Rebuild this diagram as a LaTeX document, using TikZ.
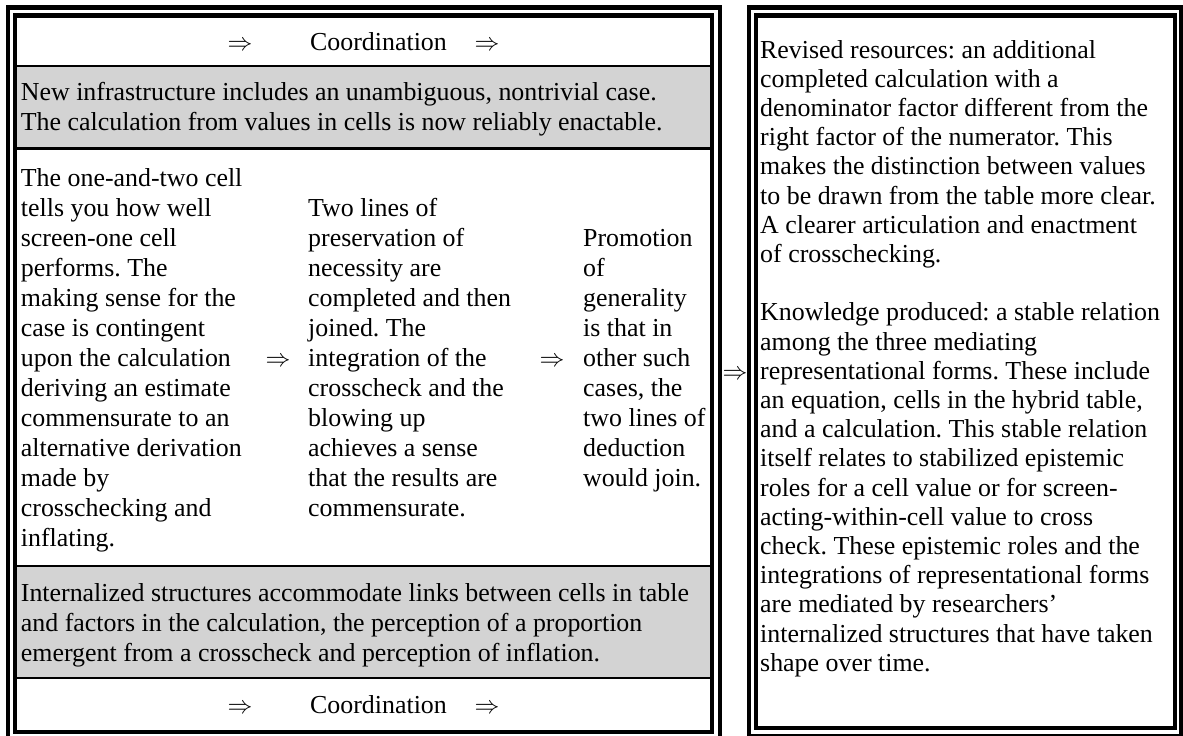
\documentclass[tikz,border=0pt]{standalone}
\usepackage{fontspec}
\setmainfont{Liberation Serif}
\frenchspacing
\definecolor{cellgray}{RGB}{211,211,211}
\tikzset{
  frame/.style={line width=4.2pt, draw=black},
  rowrule/.style={line width=2.2pt, draw=black},
  txt/.style={anchor=base west, inner sep=0pt},
  txtc/.style={anchor=base, inner sep=0pt, font=\fontsize{25.9}{30}\selectfont},
  implies/.style={anchor=base, inner sep=0pt, font=\fontsize{24}{28}\selectfont},
}
% blocks of text whose reference point is the baseline of their first line
\newcommand{\cellbody}[1]{\parbox[t]{700pt}{\fontsize{25.9}{30}\selectfont\raggedright #1}}
\newcommand{\sidebody}[1]{\parbox[t]{420pt}{\fontsize{25.9}{29.2}\selectfont\raggedright #1}}

\begin{document}
\begin{tikzpicture}[x=1pt,y=-1pt]
\useasboundingbox (0,0) rectangle (1183,736);

% shaded rows of the left table
\fill[cellgray] (17.4,66) rectangle (709.9,148.5);
\fill[cellgray] (17.4,566) rectangle (709.9,678);

% row rules
\draw[rowrule] (17.4,66) -- (709.9,66);
\draw[rowrule] (17.4,148.5) -- (709.9,148.5);
\draw[rowrule] (17.4,566) -- (709.9,566);
\draw[rowrule] (17.4,678) -- (709.9,678);

% double frames
\draw[frame] (8,7.5) rectangle (720,740);
\draw[frame] (15.3,15.5) rectangle (712,732);
\draw[frame] (749,7.5) rectangle (1181,736);
\draw[frame] (756,15.5) rectangle (1175,728);

% top row
\node[implies] (topA) at (240,50) {$\Rightarrow$};
\node[txtc] (topC) at (378.5,50) {Coordination};
\node[implies] (topB) at (487,50) {$\Rightarrow$};

% first shaded row
\node[txt] (infra) at (20.7,100) {\cellbody{New infrastructure includes an unambiguous, nontrivial case.\\
The calculation from values in cells is now reliably enactable.}};

% middle row: three cells joined by implications
\node[txt] (cellone) at (20.7,186) {\cellbody{The one-and-two cell\\
tells you how well\\
screen-one cell\\
performs. The\\
making sense for the\\
case is contingent\\
upon the calculation\\
deriving an estimate\\
commensurate to an\\
alternative derivation\\
made by\\
crosschecking and\\
inflating.}};

\node[implies] (midA) at (278,366) {$\Rightarrow$};

\node[txt] (celltwo) at (308,216) {\cellbody{Two lines of\\
preservation of\\
necessity are\\
completed and then\\
joined. The\\
integration of the\\
crosscheck and the\\
blowing up\\
achieves a sense\\
that the results are\\
commensurate.}};

\node[implies] (midB) at (552,366) {$\Rightarrow$};

\node[txt] (cellthree) at (583,246) {\cellbody{Promotion\\
of\\
generality\\
is that in\\
other such\\
cases, the\\
two lines of\\
deduction\\
would join.}};

% second shaded row
\node[txt] (internal) at (20.7,601) {\cellbody{Internalized structures accommodate links between cells in table\\
and factors in the calculation, the perception of a proportion\\
emergent from a crosscheck and perception of inflation.}};

% bottom row
\node[implies] (botA) at (240,713) {$\Rightarrow$};
\node[txtc] (botC) at (378.5,713) {Coordination};
\node[implies] (botB) at (487,713) {$\Rightarrow$};

% link between the two boxes
\node[implies] (link) at (735,379) {$\Rightarrow$};

% right box
\node[txt] (outcome) at (760,58) {\sidebody{Revised resources: an additional\\
completed calculation with a\\
denominator factor different from the\\
right factor of the numerator. This\\
makes the distinction between values\\
to be drawn from the table more clear.\\
A clearer articulation and enactment\\
of crosschecking.\\[29.2pt]
Knowledge produced: a stable relation\\
among the three mediating\\
representational forms. These include\\
an equation, cells in the hybrid table,\\
and a calculation. This stable relation\\
itself relates to stabilized epistemic\\
roles for a cell value or for screen-\\
acting-within-cell value to cross\\
check. These epistemic roles and the\\
integrations of representational forms\\
are mediated by researchers’\\
internalized structures that have taken\\
shape over time.}};

\end{tikzpicture}
\end{document}
